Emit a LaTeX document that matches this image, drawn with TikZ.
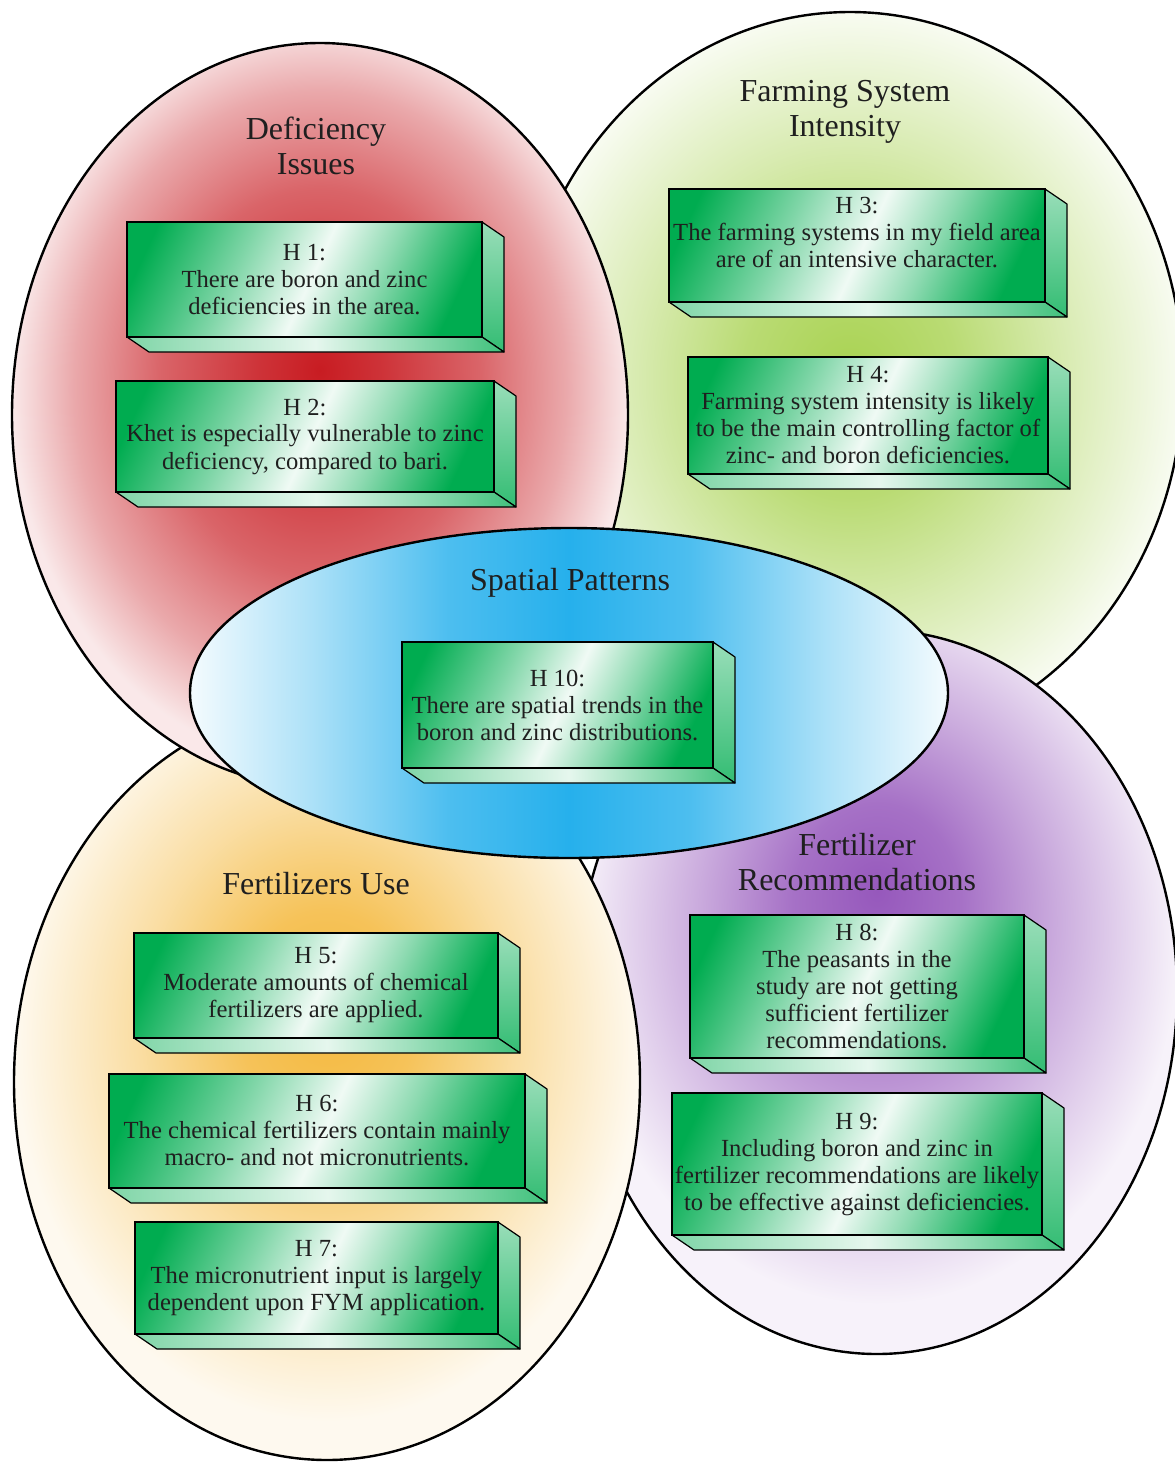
\documentclass[tikz,border=0pt]{standalone}
\usepackage{fontspec}
\setmainfont{Liberation Serif}
\usetikzlibrary{positioning,shadings}

\definecolor{defred}{RGB}{200,28,34}
\definecolor{farmgreen}{RGB}{168,210,80}
\definecolor{spatblue}{RGB}{38,176,236}
\definecolor{fertorange}{RGB}{244,184,60}
\definecolor{recpurple}{RGB}{150,88,188}
\definecolor{boxgreen}{RGB}{0,172,80}

\pgfdeclareradialshading{redglow}{\pgfpoint{0bp}{3bp}}{color(0bp)=(defred); color(5bp)=(defred!90!white); color(13bp)=(defred!68!white); color(20bp)=(defred!38!white); color(25bp)=(defred!10!white); color(50bp)=(defred!10!white)}
\pgfdeclareradialshading{greenglow}{\pgfpoint{0bp}{0bp}}{color(0bp)=(farmgreen); color(8bp)=(farmgreen!80!white); color(16bp)=(farmgreen!45!white); color(25bp)=(farmgreen!8!white); color(50bp)=(farmgreen!8!white)}
\pgfdeclareradialshading{orangeglow}{\pgfpoint{0bp}{5bp}}{color(0bp)=(fertorange); color(7bp)=(fertorange!85!white); color(15bp)=(fertorange!48!white); color(25bp)=(fertorange!8!white); color(50bp)=(fertorange!8!white)}
\pgfdeclareradialshading{purpleglow}{\pgfpoint{0bp}{7bp}}{color(0bp)=(recpurple); color(7bp)=(recpurple!85!white); color(15bp)=(recpurple!50!white); color(25bp)=(recpurple!8!white); color(50bp)=(recpurple!8!white)}
\pgfdeclarehorizontalshading{bluesheen}{100bp}{color(0bp)=(spatblue!5!white); color(25bp)=(spatblue!5!white); color(33bp)=(spatblue!38!white); color(42bp)=(spatblue!82!white); color(50bp)=(spatblue); color(58bp)=(spatblue!82!white); color(67bp)=(spatblue!38!white); color(75bp)=(spatblue!5!white); color(100bp)=(spatblue!5!white)}
\pgfdeclarehorizontalshading{sheen}{100bp}{color(0bp)=(boxgreen); color(22bp)=(boxgreen); color(38bp)=(boxgreen!50!white); color(51bp)=(white!94!boxgreen); color(62bp)=(boxgreen!45!white); color(76bp)=(boxgreen); color(100bp)=(boxgreen)}

\pgfdeclarelayer{zones}
\pgfdeclarelayer{sides}
\pgfsetlayers{zones,sides,main}

\begin{document}
\begin{tikzpicture}[x=0.5pt,y=-0.5pt,
  zone/.style={draw=black, line width=1.2pt},
  title/.style={align=center, font=\fontsize{16}{17.5}\selectfont, text=black!88},
  hyp/.style={draw=black, line width=1pt, shading=sheen, shading angle=-25, anchor=north west, align=center, inner sep=0pt, outer sep=0pt, font=\fontsize{12.3}{13.5}\selectfont, text=black!88},
  side/.style={draw=black, line width=0.6pt, line join=round}]
\clip (0,0) rectangle (1174,1463);

\begin{pgfonlayer}{zones}
\path[zone, shading=greenglow]  (850,380)  ellipse [x radius=166.5pt, y radius=184pt];
\path[zone, shading=purpleglow] (877,992)  ellipse [x radius=150pt, y radius=181pt];
\path[zone, shading=orangeglow] (327,1082) ellipse [x radius=156.5pt, y radius=189pt];
\path[zone, shading=redglow]    (320,415)  ellipse [x radius=154pt, y radius=186pt];
\path[zone, shading=bluesheen]  (569,693)  ellipse [x radius=189.5pt, y radius=82.5pt];
\end{pgfonlayer}

\node[title] (tdef)  at (316,146) {Deficiency\\Issues};
\node[title] (tfarm) at (845,112) {Farming System\\Intensity};
\node[title] (tspat) at (570,583) {Spatial Patterns};
\node[title] (tfert) at (316,884) {Fertilizers Use};
\node[title] (trec)  at (857,862) {Fertilizer\\Recommendations};

\node[hyp, minimum width=177.5pt, minimum height=57.5pt] (h1) at (127,222) {H 1:\\There are boron and zinc\\deficiencies in the area.};
\node[hyp, minimum width=189pt, minimum height=55.5pt] (h2) at (116,381) {H 2:\\Khet is especially vulnerable to zinc\\deficiency, compared to bari.};
\node[hyp, minimum width=188pt, minimum height=56.5pt] (h3) at (669,189) {H 3:\\The farming systems in my field area\\are of an intensive character.\\\mbox{}};
\node[hyp, minimum width=180pt, minimum height=58.5pt] (h4) at (688,357) {H 4:\\Farming system intensity is likely\\to be the main controlling factor of\\zinc- and boron deficiencies.};
\node[hyp, minimum width=155.5pt, minimum height=63pt] (h10) at (402,642) {H 10:\\There are spatial trends in the\\boron and zinc distributions.};
\node[hyp, minimum width=182pt, minimum height=52.5pt] (h5) at (134,933) {H 5:\\Moderate amounts of chemical\\fertilizers are applied.};
\node[hyp, minimum width=208pt, minimum height=57pt] (h6) at (109,1074) {H 6:\\The chemical fertilizers contain mainly\\macro- and not micronutrients.};
\node[hyp, minimum width=181.5pt, minimum height=56pt] (h7) at (135,1222) {H 7:\\The micronutrient input is largely\\dependent upon FYM application.};
\node[hyp, minimum width=167pt, minimum height=71.5pt] (h8) at (690,915) {H 8:\\The peasants in the\\study are not getting\\sufficient fertilizer\\recommendations.};
\node[hyp, minimum width=185pt, minimum height=71pt] (h9) at (672,1093) {H 9:\\Including boron and zinc in\\fertilizer recommendations are likely\\to be effective against deficiencies.};

% depth faces of the boxes
\begin{pgfonlayer}{sides}
\foreach \h in {h1,h2,h3,h4,h5,h6,h7,h8,h9,h10}{
  \draw[side, top color=boxgreen!40!white, bottom color=boxgreen!80!white]
    (\h.north east) -- ++(22,15) -- ([shift={(22,15)}]\h.south east) -- (\h.south east) -- cycle;
  \draw[side, left color=boxgreen!50!white, right color=boxgreen!75!white, middle color=boxgreen!10!white]
    (\h.south west) -- ++(22,15) -- ([shift={(22,15)}]\h.south east) -- (\h.south east) -- cycle;
}
\end{pgfonlayer}
\end{tikzpicture}
\end{document}
